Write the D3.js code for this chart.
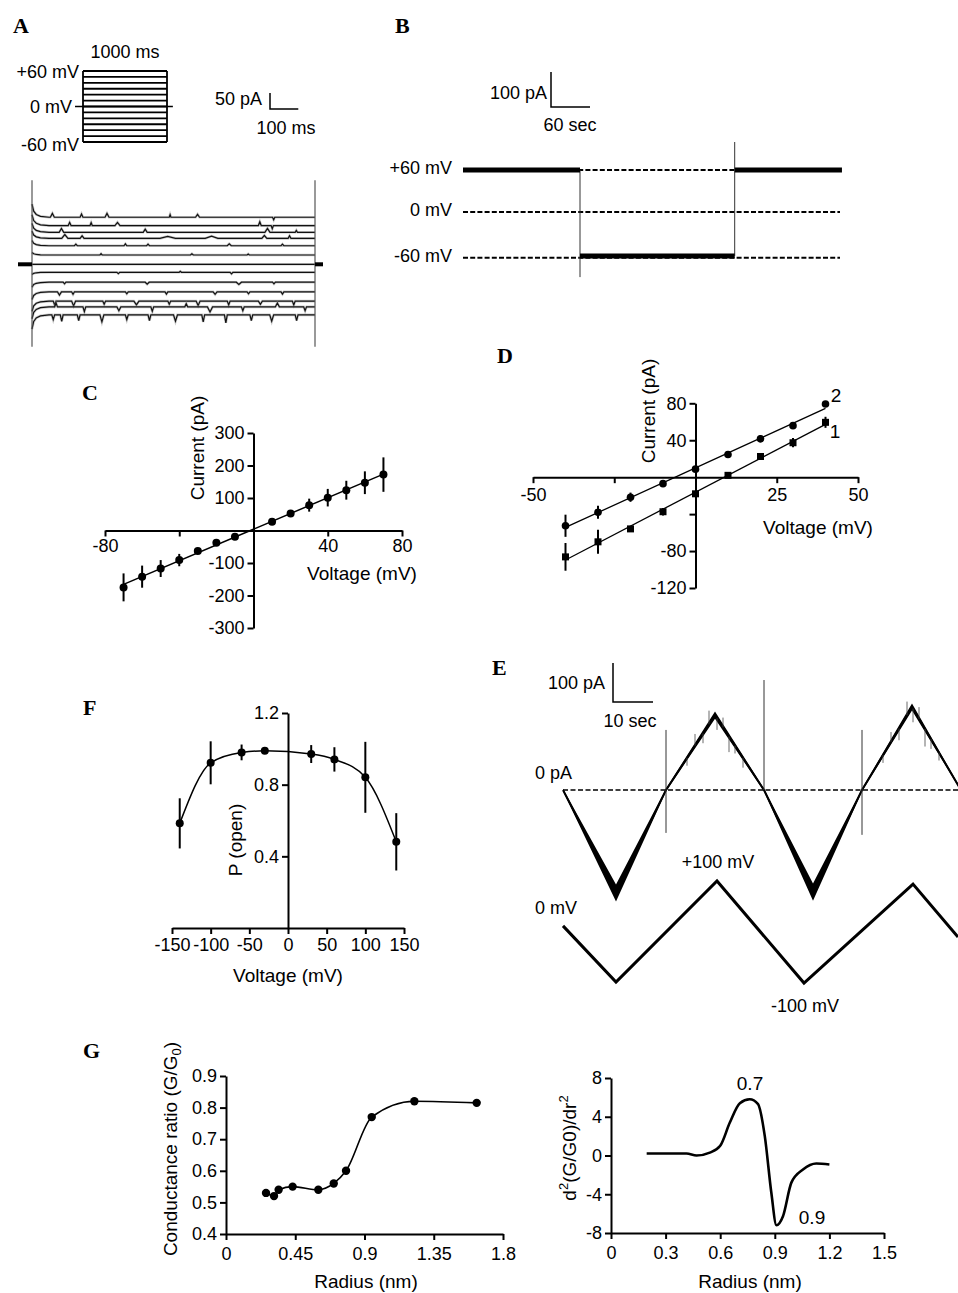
<!DOCTYPE html>
<html>
<head>
<meta charset="utf-8">
<script src="https://cdn.jsdelivr.net/npm/d3@7"></script>
<style>
  body { margin: 0; background: #fff; }
  svg { display: block; }
</style>
</head>
<body>
<svg id="fig" width="958" height="1293"></svg>
<script>
// ---------- data ----------

// A: step protocol (mV) and mean current of each sweep (pA)
const stepLevels = [60, 50, 40, 30, 20, 10, 0, -10, -20, -30, -40, -50, -60];
const stepBaselines = [147, 121, 100, 81, 58, 29, 0, -25, -56, -86, -115, -133, -158];
const protocolSpan = [-95, 1070]; // holding line, ms
const transientTimes = [0, 6, 15, 30, 60]; // ms
const transientGain = [0.28, 0.13, 0.06, 0.02, 0]; // fraction of sweep current
// [sweep, start ms, duration ms, amplitude pA]
const stepEvents = [
  [0, 65, 14, 12], [0, 170, 10, 10], [0, 258, 14, 12], [0, 485, 6, 8], [0, 578, 14, 9], [0, 850, 8, -8],
  [1, 128, 10, 10], [1, 205, 8, 9], [1, 293, 18, 10], [1, 800, 10, 12], [1, 845, 8, -10],
  [2, 96, 16, 12], [2, 393, 14, 10], [2, 823, 18, 12], [2, 930, 8, 6],
  [3, 105, 22, 12], [3, 170, 14, 8], [3, 452, 55, 6], [3, 612, 45, 7], [3, 812, 18, 9], [3, 905, 10, 8],
  [4, 150, 10, 5], [4, 325, 10, 6], [4, 405, 10, 5], [4, 690, 14, 6], [4, 880, 10, 5],
  [5, 240, 8, 4], [5, 560, 10, 4], [5, 760, 8, 3],
  [7, 300, 10, -4], [7, 520, 8, 3], [7, 700, 10, -5],
  [8, 110, 10, -5], [8, 400, 14, -6], [8, 722, 18, -7], [8, 850, 10, -5],
  [9, 90, 14, -10], [9, 140, 10, -8], [9, 330, 10, -6], [9, 470, 10, -7], [9, 640, 14, -8], [9, 760, 10, -6], [9, 880, 10, -7],
  [10, 75, 10, -12], [10, 140, 14, -15], [10, 250, 10, -10], [10, 360, 18, -12], [10, 480, 10, -10],
  [10, 580, 14, -14], [10, 690, 10, -12], [10, 800, 14, -10], [10, 920, 10, -12],
  [11, 80, 10, 12], [11, 180, 10, -15], [11, 300, 14, -12], [11, 420, 10, -14], [11, 540, 10, 10],
  [11, 620, 18, -16], [11, 740, 10, -12], [11, 860, 14, 12], [11, 960, 10, -12],
  [12, 70, 10, -15], [12, 100, 10, -20], [12, 160, 10, -18], [12, 240, 14, -22], [12, 330, 10, -15],
  [12, 410, 10, -18], [12, 500, 14, -20], [12, 600, 10, -22], [12, 680, 10, -25], [12, 770, 10, -18],
  [12, 840, 14, -20], [12, 930, 10, -18]
];

// B: long recording at +60 / -60 mV
const bLevelNames = ["+60 mV", "0 mV", "-60 mV"];
const bLevelCurrent = [120, 0, -131];
const bSegStart = [0, 180, 418];
const bSegEnd = [180, 418, 583];
const bSegCurrent = [120, -126, 120];
const bSpikeTime = [180, 418];
const bSpikeFrom = [120, -126];
const bSpikeTo = [-186, 200];

// C: I-V relation
const ivVoltage = [-70, -60, -50, -40, -30, -20, -10, 10, 20, 30, 40, 50, 60, 70];
const ivCurrent = [-175, -142, -117, -91, -63, -38, -19, 27, 52, 78, 101, 124, 147, 172];
const ivError = [43, 34, 26, 19, 5, 4, 4, 4, 5, 20, 27, 29, 35, 53];

// D: I-V relations, conditions 1 and 2
const dVoltage = [-40, -30, -20, -10, 0, 10, 20, 30, 40];
const dCurrent1 = [-86.3, -70, -56, -37.4, -18, 2, 22.4, 37.3, 59.4];
const dError1 = [15, 13, 3, 4, 2, 2, 3, 5, 6];
const dCurrent2 = [-52.6, -38, -21.7, -7, 8.7, 24.6, 41.6, 55.8, 79.3];
const dError2 = [12, 7, 5, 2, 2, 3, 4, 2, 2];

// E: voltage ramps
const rampTime = [0, 13.25, 25.75, 38, 50.25, 62.5, 74.75, 87.25, 99.5]; // s
const rampCurrent = [0, -264, 0, 192, 0, -262, 0, 213, 0]; // pA
const rampNoise = [3, 22, 4, 9, 4, 22, 4, 9, 3]; // pA half width
const rampVoltTime = [0, 13.25, 38.5, 60.25, 87.5, 98.75];
const rampVoltage = [12, -98, 100, -100, 94, -10];
const rampSpikeTime = [25.75, 50.25, 74.75];
const rampSpikeTop = [154, 282, 154];
const rampSpikeBottom = [-110, 0, -115];
const rampHairTime = [31, 33, 35, 36.5, 38.5, 40, 41.5, 43, 45, 80, 82, 84, 86, 87.5, 89, 90.5, 92, 94];
const rampHairAmp = [-20, 30, -25, 35, -30, 25, -40, -20, -25, -20, 25, -30, 35, -35, 30, -45, -25, -20];

// F: open probability
const poVoltage = [-140, -100, -60, -30, 30, 60, 100, 140];
const poMean = [0.584, 0.922, 0.98, 0.989, 0.971, 0.941, 0.841, 0.481];
const poError = [0.14, 0.12, 0.044, 0, 0.05, 0.068, 0.198, 0.16];

// G: conductance ratio vs radius, and its second derivative
const radius = [0.26, 0.312, 0.342, 0.433, 0.6, 0.70, 0.78, 0.947, 1.224, 1.629];
const gRatio = [0.53, 0.52, 0.54, 0.55, 0.54, 0.56, 0.60, 0.77, 0.82, 0.815];
const d2Radius = [0.196, 0.415, 0.47, 0.543, 0.6, 0.653, 0.708, 0.762, 0.808, 0.845, 0.881, 0.909, 0.945, 0.991, 1.055, 1.128, 1.2];
const d2Value = [0.2, 0.2, 0, 0.3, 1.0, 3.4, 5.4, 5.8, 5.3, 2.0, -3.85, -7.2, -6.27, -2.8, -1.45, -0.83, -0.93];

// ---------- drawing ----------
const FONT = '"Liberation Sans", Arial, Helvetica, sans-serif';
const TICK = 18, TITLE = 19;

const svg = d3.select("#fig").attr("font-family", FONT);
svg.append("rect").attr("width", 958).attr("height", 1293).attr("fill", "#fff");

function letter(t, x, y) {
    svg.append("text").attr("x", x).attr("y", y)
        .style("font-family", '"Liberation Serif", "Times New Roman", serif')
        .style("font-weight", "bold").style("font-size", "22px").text(t);
}
function label(g, text, x, y, anchor, size) {
    return g.append("text").attr("x", x).attr("y", y).attr("dy", "0.35em")
        .attr("text-anchor", anchor || "middle")
        .style("font-size", (size || TITLE) + "px").text(text);
}
function vLabel(g, text, x, y, size) {
    return g.append("text").attr("transform", `translate(${x},${y}) rotate(-90)`)
        .attr("dy", "0.35em").attr("text-anchor", "middle")
        .style("font-size", (size || TITLE) + "px").text(text);
}
function styleAxis(sel) {
    sel.attr("font-family", FONT).attr("font-size", TICK);
    sel.select(".domain").attr("stroke-width", 2);
    sel.selectAll(".tick line").attr("stroke-width", 2);
    sel.selectAll(".tick text").attr("fill", "#000");
}
// plain labels with a hyphen minus, some left blank
function plain(hidden) { return d => (hidden || []).includes(d) ? "" : String(d); }
function errorBars(g, cls, xs, ys, es, x, y) {
    g.selectAll("." + cls).data(xs.map((v, i) => ({ v, m: ys[i], e: es[i] })))
        .join("line").attr("class", cls)
        .attr("x1", d => x(d.v)).attr("x2", d => x(d.v))
        .attr("y1", d => y(d.m - d.e)).attr("y2", d => y(d.m + d.e))
        .attr("stroke", "#000").attr("stroke-width", 2);
}
function dots(g, cls, xs, ys, x, y, r) {
    g.selectAll("." + cls).data(xs.map((v, i) => [v, ys[i]]))
        .join("circle").attr("class", cls)
        .attr("cx", d => x(d[0])).attr("cy", d => y(d[1])).attr("r", r || 4).attr("fill", "#000");
}
function fitLine(xs, ys) {
    const mx = d3.mean(xs), my = d3.mean(ys);
    const b = d3.sum(xs, (v, i) => (v - mx) * (ys[i] - my)) / d3.sum(xs, v => (v - mx) ** 2);
    return v => my + b * (v - mx);
}

letter("A", 13, 33); letter("B", 395, 33); letter("C", 82, 400); letter("D", 497, 363);
letter("E", 492, 675); letter("F", 83, 715); letter("G", 83, 1058);

// ===== Panel A =====
{
    const g = svg.append("g");
    const pT = d3.scaleLinear().domain([0, 1000]).range([83, 167]);
    const pV = d3.scaleLinear().domain([-60, 60]).range([142, 71]);

    g.selectAll(".step").data(stepLevels).join("line").attr("class", "step")
        .attr("x1", pT(0)).attr("x2", pT(1000))
        .attr("y1", d => pV(d)).attr("y2", d => pV(d))
        .attr("stroke", "#000").attr("stroke-width", 1.8);
    [0, 1000].forEach(t => g.append("line").attr("x1", pT(t)).attr("x2", pT(t))
        .attr("y1", pV(-60)).attr("y2", pV(60)).attr("stroke", "#000").attr("stroke-width", 1.8));
    g.append("line").attr("x1", pT(protocolSpan[0])).attr("x2", pT(protocolSpan[1]))
        .attr("y1", pV(0)).attr("y2", pV(0)).attr("stroke", "#000").attr("stroke-width", 1.5);

    label(g, "1000 ms", 125, 52, "middle", 18);
    label(g, "+60 mV", 79, 72, "end", 18);
    label(g, "0 mV", 72, 107, "end", 18);
    label(g, "-60 mV", 79, 145, "end", 18);

    const aT = d3.scaleLinear().domain([0, 1000]).range([32, 315]);
    const aI = d3.scaleLinear().domain([0, 50]).range([264.3, 248.3]);

    // scale bar
    const sx = 270, sy = 109;
    g.append("path")
        .attr("d", `M${sx},${sy - (aI(0) - aI(50))}V${sy}H${sx + aT(100) - aT(0)}`)
        .attr("fill", "none").attr("stroke", "#000").attr("stroke-width", 1.5);
    label(g, "50 pA", 262, 99, "end", 18);
    label(g, "100 ms", 286, 128, "middle", 18);

    const line = d3.line().x(d => aT(d[0])).y(d => aI(d[1]));
    stepBaselines.forEach((base, k) => {
        const pts = transientTimes.map((t, j) => [t, base + base * transientGain[j]]);
        stepEvents.filter(e => e[0] === k).forEach(e => {
            pts.push([e[1], base], [e[1] + e[2] / 2, base + e[3]], [e[1] + e[2], base]);
        });
        pts.push([1000, base]);
        pts.sort((a, b) => a[0] - b[0]);
        // soft underlay gives the recorded traces their fuzzy look
        g.append("path").attr("d", line(pts)).attr("fill", "none")
            .attr("stroke", "#888").attr("stroke-opacity", 0.45).attr("stroke-width", 2.6);
        g.append("path").attr("d", line(pts)).attr("fill", "none")
            .attr("stroke", "#111").attr("stroke-width", 1.2);
    });

    // capacitive edges
    [0, 1000].forEach(t => g.append("line").attr("x1", aT(t)).attr("x2", aT(t))
        .attr("y1", aI(263)).attr("y2", aI(-258)).attr("stroke", "#555").attr("stroke-width", 1.2));
    // zero-current markers
    g.append("rect").attr("x", 18).attr("y", aI(0) - 2).attr("width", aT(0) - 18).attr("height", 4);
    g.append("rect").attr("x", aT(1000)).attr("y", aI(0) - 2).attr("width", 8).attr("height", 4);
}

// ===== Panel B =====
{
    const g = svg.append("g");
    const bT = d3.scaleLinear().domain([0, 60]).range([463, 502]);
    const bI = d3.scaleLinear().domain([0, 100]).range([212, 177]);

    const sx = 551, sy = 107;
    g.append("path")
        .attr("d", `M${sx},${sy - (bI(0) - bI(100))}V${sy}H${sx + bT(60) - bT(0)}`)
        .attr("fill", "none").attr("stroke", "#000").attr("stroke-width", 1.5);
    label(g, "100 pA", 547, 93, "end", 18);
    label(g, "60 sec", 570, 125, "middle", 18);

    bLevelNames.forEach((name, i) => {
        label(g, name, 452, bI(bLevelCurrent[i]) - 2, "end", 18);
        g.append("line").attr("x1", bT(0)).attr("x2", 840)
            .attr("y1", bI(bLevelCurrent[i])).attr("y2", bI(bLevelCurrent[i]))
            .attr("stroke", "#000").attr("stroke-width", 2).attr("stroke-dasharray", "5,2.2");
    });
    bSpikeTime.forEach((t, i) => g.append("line").attr("x1", bT(t)).attr("x2", bT(t))
        .attr("y1", bI(bSpikeFrom[i])).attr("y2", bI(bSpikeTo[i]))
        .attr("stroke", "#333").attr("stroke-width", 1));
    bSegStart.forEach((t, i) => g.append("line").attr("x1", bT(t)).attr("x2", bT(bSegEnd[i]))
        .attr("y1", bI(bSegCurrent[i])).attr("y2", bI(bSegCurrent[i]))
        .attr("stroke", "#000").attr("stroke-width", 5));
}

// ===== Panel C =====
{
    const g = svg.append("g");
    const x = d3.scaleLinear().domain([-80, 80]).range([105, 402]);
    const y = d3.scaleLinear().domain([-300, 300]).range([628, 433]);

    g.append("g").attr("transform", `translate(0,${y(0)})`)
        .call(d3.axisBottom(x).tickValues([-80, -40, 0, 40, 80]).tickSize(6).tickSizeOuter(0)
            .tickFormat(plain([-40, 0])))
        .call(styleAxis);
    g.append("g").attr("transform", `translate(${x(0)},0)`)
        .call(d3.axisLeft(y).tickValues([-300, -200, -100, 100, 200, 300]).tickSize(6).tickSizeOuter(0)
            .tickFormat(plain()))
        .call(styleAxis);

    const fit = fitLine(ivVoltage, ivCurrent);
    const ext = d3.extent(ivVoltage);
    g.append("line").attr("x1", x(ext[0])).attr("x2", x(ext[1]))
        .attr("y1", y(fit(ext[0]))).attr("y2", y(fit(ext[1])))
        .attr("stroke", "#000").attr("stroke-width", 1.5);
    errorBars(g, "eb", ivVoltage, ivCurrent, ivError, x, y);
    dots(g, "pt", ivVoltage, ivCurrent, x, y, 4);

    vLabel(g, "Current (pA)", 197, 448);
    label(g, "Voltage (mV)", 362, 573);
}

// ===== Panel D =====
{
    const g = svg.append("g");
    const x = d3.scaleLinear().domain([-50, 50]).range([533, 858]);
    const y = d3.scaleLinear().domain([-120, 80]).range([588, 403.3]);

    g.append("g").attr("transform", `translate(0,${y(0)})`)
        .call(d3.axisBottom(x).tickValues([-50, -25, 0, 25, 50]).tickSize(6).tickSizeOuter(0)
            .tickFormat(plain([-25, 0])).tickPadding(5))
        .call(styleAxis);
    g.append("g").attr("transform", `translate(${x(0)},0)`)
        .call(d3.axisLeft(y).tickValues([-120, -80, -40, 40, 80]).tickSize(6).tickSizeOuter(0)
            .tickFormat(plain([-40])))
        .call(styleAxis);

    const ext = d3.extent(dVoltage);
    [[dCurrent1, dError1], [dCurrent2, dError2]].forEach(([cur, err], s) => {
        const fit = fitLine(dVoltage, cur);
        g.append("line").attr("x1", x(ext[0])).attr("x2", x(ext[1]))
            .attr("y1", y(fit(ext[0]))).attr("y2", y(fit(ext[1])))
            .attr("stroke", "#000").attr("stroke-width", 1.3);
        errorBars(g, "eb" + s, dVoltage, cur, err, x, y);
    });
    g.selectAll(".sq").data(dVoltage.map((v, i) => [v, dCurrent1[i]])).join("rect").attr("class", "sq")
        .attr("x", d => x(d[0]) - 3.5).attr("y", d => y(d[1]) - 3.5)
        .attr("width", 7).attr("height", 7).attr("fill", "#000");
    dots(g, "pt", dVoltage, dCurrent2, x, y, 3.8);

    label(g, "2", 836, 395);
    label(g, "1", 835, 431);
    vLabel(g, "Current (pA)", 648, 411);
    label(g, "Voltage (mV)", 818, 527);
}

// ===== Panel E =====
{
    const g = svg.append("g");
    const x = d3.scaleLinear().domain([0, 10]).range([563, 603]);
    const yI = d3.scaleLinear().domain([0, 100]).range([790, 751]);
    const yV = d3.scaleLinear().domain([-100, 100]).range([983, 881]);

    const sx = 613, sy = 702;
    g.append("path")
        .attr("d", `M${sx},${sy - (yI(0) - yI(100))}V${sy}H${sx + x(10) - x(0)}`)
        .attr("fill", "none").attr("stroke", "#000").attr("stroke-width", 1.5);
    label(g, "100 pA", 605, 683, "end", 18);
    label(g, "10 sec", 630, 721, "middle", 18);
    label(g, "0 pA", 535, 773, "start", 18);

    g.append("line").attr("x1", x(0)).attr("x2", 958).attr("y1", yI(0)).attr("y2", yI(0))
        .attr("stroke", "#000").attr("stroke-width", 1.6).attr("stroke-dasharray", "5,2.5");

    const eData = rampTime.map((t, i) => ({ t, c: rampCurrent[i], n: rampNoise[i] }));
    g.append("path").datum(eData)
        .attr("d", d3.area().x(d => x(d.t)).y0(d => yI(d.c - d.n)).y1(d => yI(d.c + d.n)))
        .attr("fill", "#000");
    g.append("path").datum(eData)
        .attr("d", d3.line().x(d => x(d.t)).y(d => yI(d.c)))
        .attr("fill", "none").attr("stroke", "#000").attr("stroke-width", 2);

    const onTrace = d3.scaleLinear().domain(rampTime).range(rampCurrent);
    rampHairTime.forEach((t, i) => g.append("line").attr("x1", x(t)).attr("x2", x(t))
        .attr("y1", yI(onTrace(t))).attr("y2", yI(onTrace(t) + rampHairAmp[i]))
        .attr("stroke", "#444").attr("stroke-width", 0.8));
    rampSpikeTime.forEach((t, i) => g.append("line").attr("x1", x(t)).attr("x2", x(t))
        .attr("y1", yI(rampSpikeTop[i])).attr("y2", yI(rampSpikeBottom[i]))
        .attr("stroke", "#333").attr("stroke-width", 1));

    g.append("path").datum(rampVoltTime.map((t, i) => [t, rampVoltage[i]]))
        .attr("d", d3.line().x(d => x(d[0])).y(d => yV(d[1])))
        .attr("fill", "none").attr("stroke", "#000").attr("stroke-width", 3);
    label(g, "+100 mV", 718, 862, "middle", 18);
    label(g, "0 mV", 535, 908, "start", 18);
    label(g, "-100 mV", 805, 1006, "middle", 18);
}

// ===== Panel F =====
{
    const g = svg.append("g");
    const x = d3.scaleLinear().domain([-150, 150]).range([172, 404]);
    const y = d3.scaleLinear().domain([0, 1.2]).range([928, 713]);

    g.append("g").attr("transform", `translate(0,${y(0)})`)
        .call(d3.axisBottom(x).tickValues(d3.range(-150, 151, 50)).tickSize(6).tickSizeOuter(0).tickPadding(4)
            .tickFormat(plain()))
        .call(styleAxis);
    g.append("g").attr("transform", `translate(${x(0)},0)`)
        .call(d3.axisLeft(y).tickValues([0.4, 0.8, 1.2]).tickSize(6).tickSizeOuter(0).tickFormat(d3.format(".1f")))
        .call(styleAxis);

    g.append("path").datum(poVoltage.map((v, i) => [v, poMean[i]]))
        .attr("d", d3.line().x(d => x(d[0])).y(d => y(d[1])).curve(d3.curveMonotoneX))
        .attr("fill", "none").attr("stroke", "#000").attr("stroke-width", 1.5);
    errorBars(g, "eb", poVoltage, poMean, poError, x, y);
    dots(g, "pt", poVoltage, poMean, x, y, 4);

    vLabel(g, "P (open)", 235, 840);
    label(g, "Voltage (mV)", 288, 975);
}

// ===== Panel G (left) =====
{
    const g = svg.append("g");
    const x = d3.scaleLinear().domain([0, 1.8]).range([226, 503]);
    const y = d3.scaleLinear().domain([0.4, 0.9]).range([1234, 1076]);

    g.append("g").attr("transform", `translate(0,${y(0.4)})`)
        .call(d3.axisBottom(x).tickValues([0, 0.45, 0.9, 1.35, 1.8]).tickSize(6).tickSizeOuter(0).tickPadding(7)
            .tickFormat(plain()))
        .call(styleAxis);
    g.append("g").attr("transform", `translate(${x(0)},0)`)
        .call(d3.axisLeft(y).tickValues([0.4, 0.5, 0.6, 0.7, 0.8, 0.9]).tickSize(6).tickSizeOuter(0).tickFormat(d3.format(".1f")))
        .call(styleAxis);

    g.append("path").datum(radius.map((r, i) => [r, gRatio[i]]))
        .attr("d", d3.line().x(d => x(d[0])).y(d => y(d[1])).curve(d3.curveMonotoneX))
        .attr("fill", "none").attr("stroke", "#000").attr("stroke-width", 1.6);
    dots(g, "pt", radius, gRatio, x, y, 4.2);

    const t = g.append("text").attr("transform", "translate(170,1149) rotate(-90)")
        .attr("dy", "0.35em").attr("text-anchor", "middle").style("font-size", TITLE + "px");
    t.append("tspan").text("Conductance ratio (G/G");
    t.append("tspan").attr("dy", 4).style("font-size", "13px").text("0");
    t.append("tspan").attr("dy", -4).text(")");
    label(g, "Radius (nm)", 366, 1281);
}

// ===== Panel G (right) =====
{
    const g = svg.append("g");
    const x = d3.scaleLinear().domain([0, 1.5]).range([611, 884]);
    const y = d3.scaleLinear().domain([-8, 8]).range([1233, 1078]);

    g.append("g").attr("transform", `translate(0,${y(-8)})`)
        .call(d3.axisBottom(x).tickValues([0, 0.3, 0.6, 0.9, 1.2, 1.5]).tickSize(6).tickSizeOuter(0).tickPadding(7)
            .tickFormat(plain()))
        .call(styleAxis);
    g.append("g").attr("transform", `translate(${x(0)},0)`)
        .call(d3.axisLeft(y).tickValues([-8, -4, 0, 4, 8]).tickSize(6).tickSizeOuter(0)
            .tickFormat(plain()))
        .call(styleAxis);

    g.append("path").datum(d2Radius.map((r, i) => [r, d2Value[i]]))
        .attr("d", d3.line().x(d => x(d[0])).y(d => y(d[1])).curve(d3.curveMonotoneX))
        .attr("fill", "none").attr("stroke", "#000").attr("stroke-width", 2.6);

    label(g, "0.7", 750, 1083);
    label(g, "0.9", 812, 1217);

    const t = g.append("text").attr("transform", "translate(569,1148) rotate(-90)")
        .attr("dy", "0.35em").attr("text-anchor", "middle").style("font-size", TITLE + "px");
    t.append("tspan").text("d");
    t.append("tspan").attr("dy", -8).style("font-size", "13px").text("2");
    t.append("tspan").attr("dy", 8).text("(G/G0)/dr");
    t.append("tspan").attr("dy", -8).style("font-size", "13px").text("2");
    label(g, "Radius (nm)", 750, 1281);
}
</script>
</body>
</html>
